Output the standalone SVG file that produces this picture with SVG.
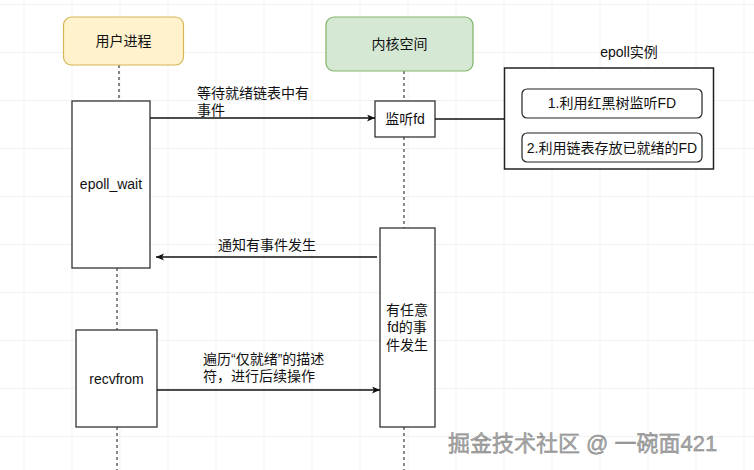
<svg xmlns="http://www.w3.org/2000/svg" width="754" height="470" viewBox="0 0 754 470">
<defs>
<pattern id="grid" x="23.5" y="4" width="48" height="48" patternUnits="userSpaceOnUse">
<path d="M0,0 H48 M0,0 V48" fill="none" stroke="#e3e3e3" stroke-width="1"/>
</pattern>
<marker id="arr" markerWidth="9" markerHeight="8" refX="8" refY="3.5" orient="auto" markerUnits="userSpaceOnUse">
<path d="M0,0 L8,3.5 L0,7 L2,3.5 z" fill="#111"/>
</marker>
</defs>
<style>
text{font-family:"Liberation Sans","Noto Sans CJK SC",sans-serif;font-size:14px;fill:#111}
.c{text-anchor:middle}
.box{fill:#fff;stroke:#333;stroke-width:1.3}
.life{stroke:#111;stroke-width:1;stroke-dasharray:3,3;fill:none}
.edge{stroke:#111;stroke-width:1.3;fill:none}
</style>
<rect width="754" height="470" fill="#fff"/>
<rect width="754" height="470" fill="url(#grid)"/>

<g id="lifelines">
<path class="life" d="M119,65 V101"/>
<path class="life" d="M117,268 V330"/>
<path class="life" d="M117,427 V470"/>
<path class="life" d="M404,71 V101"/>
<path class="life" d="M404,137 V228"/>
<path class="life" d="M404,427 V470"/>
</g>

<g id="user-process">
<rect x="63.5" y="17" width="120" height="48" rx="8" fill="#fff2cc" stroke="#d6b656" stroke-width="1.2"/>
<text class="c" x="123.5" y="46">用户进程</text>
</g>
<g id="kernel-space">
<rect x="326" y="17" width="147" height="54" rx="8" fill="#d5e8d4" stroke="#82b366" stroke-width="1.2"/>
<text class="c" x="399.5" y="49">内核空间</text>
</g>

<g id="epoll-wait">
<rect class="box" x="72" y="101" width="78" height="167"/>
<text class="c" x="111" y="189">epoll_wait</text>
</g>
<g id="recvfrom">
<rect class="box" x="76" y="330" width="81" height="97"/>
<text class="c" x="116.5" y="384">recvfrom</text>
</g>
<g id="listen-fd">
<rect class="box" x="375" y="101" width="60" height="36"/>
<text class="c" x="405" y="124">监听fd</text>
</g>
<g id="event-occurs">
<rect class="box" x="380" y="228" width="55" height="199"/>
<text class="c" x="407" y="315">有任意</text>
<text class="c" x="407" y="332">fd的事</text>
<text class="c" x="407" y="350">件发生</text>
</g>
<g id="epoll-instance">
<text class="c" x="629" y="57">epoll实例</text>
<rect x="504.5" y="68" width="209" height="101" fill="#fff" stroke="#222" stroke-width="1.5"/>
<rect x="522" y="89" width="180" height="29" rx="5" fill="#fff" stroke="#222" stroke-width="1.2"/>
<text class="c" x="612" y="108">1.利用红黑树监听FD</text>
<rect x="522" y="133" width="180" height="29" rx="5" fill="#fff" stroke="#222" stroke-width="1.2"/>
<text class="c" x="612" y="152.5">2.利用链表存放已就绪的FD</text>
</g>

<g id="connectors">
<path class="edge" d="M150,118 H375" marker-end="url(#arr)"/>
<text x="197" y="98">等待就绪链表中有</text>
<text x="197" y="115">事件</text>
<path class="edge" d="M435,119 H504"/>
<path class="edge" d="M377,257 H156" marker-end="url(#arr)"/>
<text x="218" y="250">通知有事件发生</text>
<path class="edge" d="M157,390 H380" marker-end="url(#arr)"/>
<text x="203" y="364">遍历“仅就绪”的描述</text>
<text x="203" y="381">符，进行后续操作</text>
</g>

<text x="448" y="451" style="font-size:22px;fill:#a8a8a8;stroke:#7a7a7a;stroke-width:0.4">掘金技术社区 @ 一碗面421</text>
</svg>
